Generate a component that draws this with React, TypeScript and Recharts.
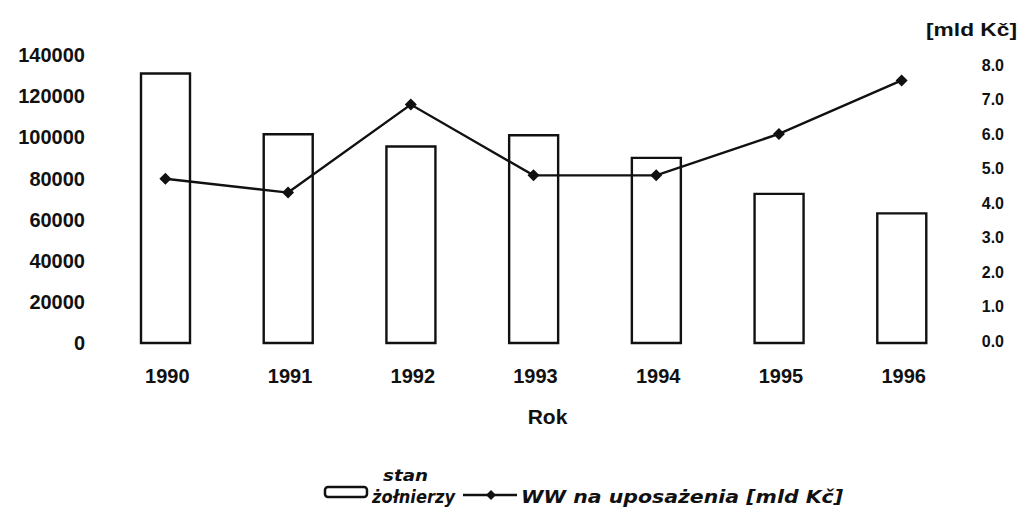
import React from 'react';
import { ComposedChart, Bar, Line, XAxis, YAxis, Customized } from 'recharts';

const years = ['1990', '1991', '1992', '1993', '1994', '1995', '1996'];
const soldiers = [131000, 101500, 95500, 101000, 90000, 72500, 63000];
const wages = [4.7, 4.3, 6.85, 4.8, 4.8, 6.0, 7.55];
const leftTicks = [0, 20000, 40000, 60000, 80000, 100000, 120000, 140000];
const rightTicks = [0, 1, 2, 3, 4, 5, 6, 7, 8];
const xAxisTitle = 'Rok';
const rightAxisTitle = '[mld Kč]';
const legendBarLabel = ['stan', 'żołnierzy'];
const legendLineLabel = 'WW na uposażenia [mld Kč]';

const data = years.map((year, i) => ({ year, soldiers: soldiers[i], wages: wages[i] }));

const FONT = '"Liberation Sans", Arial, sans-serif';
const HAND = '"DejaVu Sans", sans-serif';
const INK = '#111';

const LeftTick = (props: any) => {
  const { x, y, payload } = props;
  return (
    <text x={x - 19} y={y} dy="0.36em" textAnchor="end" fontFamily={FONT} fontSize={20} fontWeight="bold" fill={INK}>
      {payload.value}
    </text>
  );
};

const RightTick = (props: any) => {
  const { x, y, payload } = props;
  return (
    <text x={x + 41} y={y} dy="0.36em" textAnchor="end" fontFamily={FONT} fontSize={16} fontWeight="bold" fill={INK}>
      {Number(payload.value).toFixed(1)}
    </text>
  );
};

const BottomTick = (props: any) => {
  const { x, y, payload } = props;
  return (
    <text x={x + 2} y={y + 33} dy="0.36em" textAnchor="middle" fontFamily={FONT} fontSize={20} fontWeight="bold" fill={INK}>
      {payload.value}
    </text>
  );
};

const Diamond = (props: any) => {
  const { cx, cy, index } = props;
  const r = 6;
  return <path key={`d-${index}`} d={`M${cx} ${cy - r} L${cx + r} ${cy} L${cx} ${cy + r} L${cx - r} ${cy} Z`} fill={INK} />;
};

const XTitle = (props: any) => {
  const { viewBox } = props;
  return (
    <text x={viewBox.x + viewBox.width / 2 + 14} y={viewBox.y + 73} dy="0.36em" textAnchor="middle" fontFamily={FONT} fontSize={21} fontWeight="bold" fill={INK}>
      {xAxisTitle}
    </text>
  );
};

const RightTitle = (props: any) => {
  const { viewBox } = props;
  return (
    <text x={viewBox.x + viewBox.width - 3} y={viewBox.y - 25} dy="0.36em" textAnchor="end" fontFamily={FONT} fontSize={18} fontWeight="bold" fill={INK} textLength={91} lengthAdjust="spacingAndGlyphs">
      {rightAxisTitle}
    </text>
  );
};

const LegendDraw = () => (
  <g>
    <rect x={325} y={487} width={42} height={10} rx={3} fill="#fff" stroke={INK} strokeWidth={2.5} />
    <text x={383} y={481} fontFamily={HAND} fontStyle="italic" fontWeight="bold" fontSize={16} fill={INK} textLength={45} lengthAdjust="spacingAndGlyphs">
      {legendBarLabel[0]}
    </text>
    <text x={372} y={503} fontFamily={HAND} fontStyle="italic" fontWeight="bold" fontSize={17} fill={INK} textLength={83} lengthAdjust="spacingAndGlyphs">
      {legendBarLabel[1]}
    </text>
    <line x1={463} y1={495} x2={517} y2={495} stroke={INK} strokeWidth={2.5} />
    <path d="M491 490 L496 495 L491 500 L486 495 Z" fill={INK} />
    <text x={521} y={503} fontFamily={HAND} fontStyle="italic" fontWeight="bold" fontSize={18} fill={INK} textLength={322} lengthAdjust="spacingAndGlyphs">
      {legendLineLabel}
    </text>
  </g>
);

export default function App() {
  return (
    <div style={{ position: 'absolute', left: 0, top: 0, background: '#fff' }}>
      <ComposedChart width={1020} height={511} data={data} margin={{ top: 55, right: 0, bottom: 83, left: 0 }}>
        <XAxis
          dataKey="year"
          height={85}
          axisLine={false}
          tickLine={false}
          tickSize={0}
          tickMargin={0}
          tick={<BottomTick />}
          interval={0}
          label={{ content: <XTitle /> }}
        />
        <YAxis
          yAxisId="left"
          orientation="left"
          width={104}
          domain={[0, 140000]}
          ticks={leftTicks}
          axisLine={false}
          tickLine={false}
          tickSize={0}
          tickMargin={0}
          tick={<LeftTick />}
          interval={0}
        />
        <YAxis
          yAxisId="right"
          orientation="right"
          width={57}
          type="number"
          domain={[-0.057, 8.286]}
          allowDataOverflow
          ticks={rightTicks}
          axisLine={false}
          tickLine={false}
          tickSize={0}
          tickMargin={0}
          tick={<RightTick />}
          interval={0}
          label={{ content: <RightTitle /> }}
        />
        <Bar yAxisId="left" dataKey="soldiers" barSize={49} fill="#fff" stroke={INK} strokeWidth={2.4} isAnimationActive={false} />
        <Line yAxisId="right" type="linear" dataKey="wages" stroke={INK} strokeWidth={2.4} dot={<Diamond />} activeDot={false} isAnimationActive={false} />
        <Customized component={<LegendDraw />} />
      </ComposedChart>
    </div>
  );
}
